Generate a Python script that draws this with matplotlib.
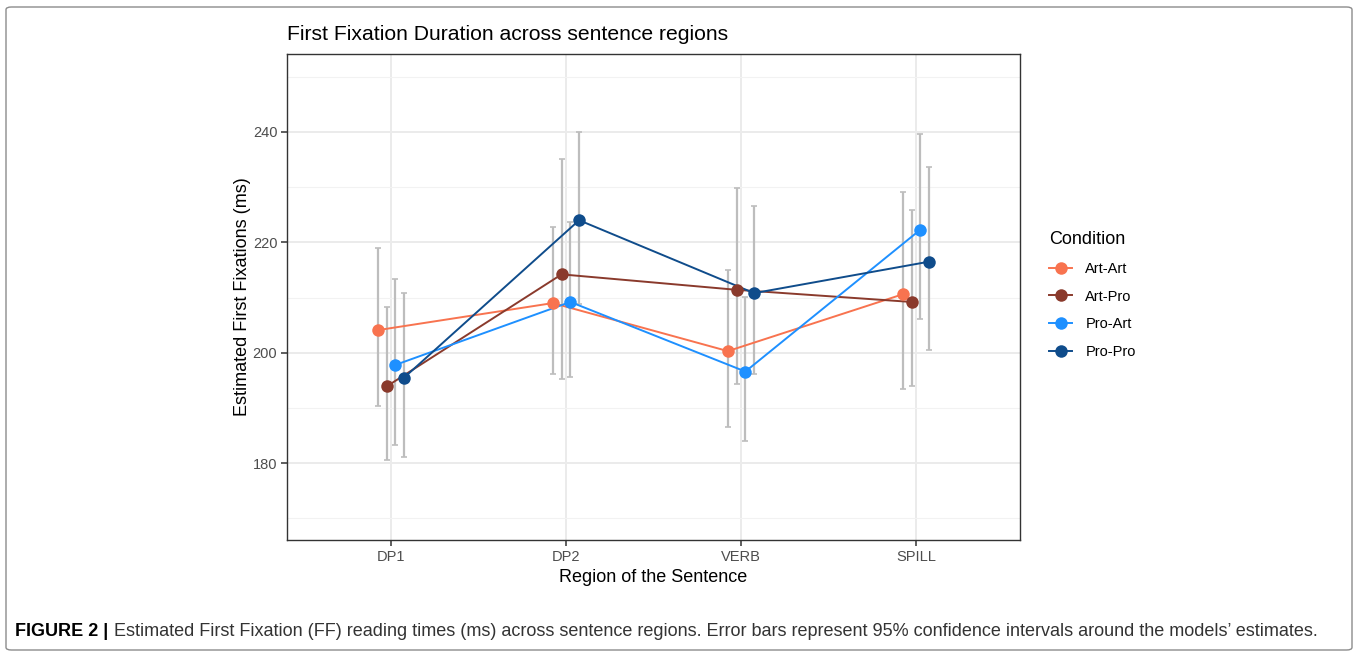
import matplotlib
matplotlib.use("Agg")
from matplotlib import pyplot
from matplotlib.patches import FancyBboxPatch
from matplotlib.lines import Line2D

pyplot.rcParams['font.family'] = ['Liberation Sans', 'DejaVu Sans']

regions = ['DP1', 'DP2', 'VERB', 'SPILL']
conditions = ['Art-Art', 'Art-Pro', 'Pro-Art', 'Pro-Pro']
colors = ['#F8734F', '#8A3A2C', '#1E90FF', '#0F4C8B']

# estimates and 95% CI per condition, in region order
est = {
    'Art-Art': [204.1, 209.0, 200.3, 210.6],
    'Art-Pro': [193.9, 214.2, 211.4, 209.2],
    'Pro-Art': [197.8, 209.2, 196.6, 222.3],
    'Pro-Pro': [195.5, 224.0, 210.8, 216.5],
}
lower = {
    'Art-Art': [190.4, 196.2, 186.6, 193.4],
    'Art-Pro': [180.5, 195.2, 194.4, 194.0],
    'Pro-Art': [183.3, 195.7, 184.0, 206.1],
    'Pro-Pro': [181.1, 208.8, 196.2, 200.5],
}
upper = {
    'Art-Art': [218.9, 222.7, 215.0, 229.2],
    'Art-Pro': [208.2, 235.0, 229.8, 225.8],
    'Pro-Art': [213.4, 223.7, 210.1, 239.6],
    'Pro-Pro': [210.8, 239.9, 226.6, 233.7],
}
dodge = [-0.075, -0.025, 0.025, 0.075]

W, H = 1357, 656
fig = pyplot.figure(figsize=(W / 100, H / 100), dpi=100)

# outer frame of the figure
frame = FancyBboxPatch((6 / W, 6 / H), 1346 / W, 643 / H,
                       boxstyle='round,pad=0,rounding_size=0.004',
                       transform=fig.transFigure, facecolor='none',
                       edgecolor='#8c8c8c', linewidth=1.0)
fig.patches.append(frame)

ax = fig.add_axes([287 / W, 1 - 540 / H, 733 / W, 486 / H])
xs = range(1, len(regions) + 1)

for c, col, d in zip(conditions, colors, dodge):
    x = [i + d for i in xs]
    lo = [e - l for e, l in zip(est[c], lower[c])]
    hi = [u - e for e, u in zip(est[c], upper[c])]
    ax.errorbar(x, est[c], yerr=[lo, hi], fmt='none', ecolor='#bdbdbd',
                elinewidth=1.6, capsize=2.5, capthick=1.2, zorder=2)
    ax.plot(x, est[c], '-', color=col, linewidth=1.4, zorder=3)
    ax.plot(x, est[c], 'o', color=col, markersize=9, zorder=4, label=c,
            markeredgewidth=0)

ax.set_xlim(0.406, 4.594)
ax.set_ylim(166.1, 254.1)
ax.set_xticks(list(xs))
ax.set_xticklabels(regions)
ax.set_yticks([180, 200, 220, 240])
ax.set_yticks([170, 190, 210, 230, 250], minor=True)
ax.grid(True, which='major', color='#ebebeb', linewidth=1.4, zorder=0)
ax.grid(True, which='minor', axis='y', color='#f2f2f2', linewidth=0.8, zorder=0)
ax.set_axisbelow(True)
for s in ax.spines.values():
    s.set_color('#333333')
    s.set_linewidth(1.0)
ax.tick_params(which='major', length=4, width=1.1, color='#333333',
               labelcolor='#4d4d4d', labelsize=10.5, pad=3)
ax.tick_params(which='minor', length=0)

ax.set_xlabel('Region of the Sentence', fontsize=13, color='black', labelpad=4)
ax.set_ylabel('Estimated First Fixations (ms)', fontsize=13, color='black', labelpad=1)
ax.set_title('First Fixation Duration across sentence regions', loc='left',
             fontsize=15.2, pad=10)

# legend with line + point keys
handles = [Line2D([0], [0], color=col, linewidth=1.4, marker='o', markersize=9,
                  markeredgewidth=0) for col in colors]
leg = fig.legend(handles, conditions, title='Condition', loc='upper left',
                 bbox_to_anchor=(1043 / W, 1 - 225 / H), frameon=False,
                 fontsize=10.5, title_fontsize=13, handlelength=1.6,
                 handletextpad=0.9, labelspacing=0.95, borderaxespad=0)
leg._legend_box.align = 'left'

# caption, shrunk to the width it takes in the reference
cap_y = 1 - 632 / H
cap_size = 13.5
t1 = fig.text(15 / W, cap_y, 'FIGURE 2 |', fontsize=cap_size, fontweight='bold',
              va='center')
t2 = fig.text(0, cap_y,
              'Estimated First Fixation (FF) reading times (ms) across sentence regions. '
              'Error bars represent 95% confidence intervals around the models\u2019 estimates.',
              fontsize=cap_size, va='center', color='#333333')
fig.canvas.draw()
w_all = t2.get_window_extent().width + t1.get_window_extent().width + 6
scale = (1316 - 15) / w_all
t1.set_fontsize(cap_size * scale)
t2.set_fontsize(cap_size * scale)
fig.canvas.draw()
bb = t1.get_window_extent()
t2.set_x((bb.x1 + 6) / W)

pyplot.savefig('out.png', dpi=100)
pyplot.close()
